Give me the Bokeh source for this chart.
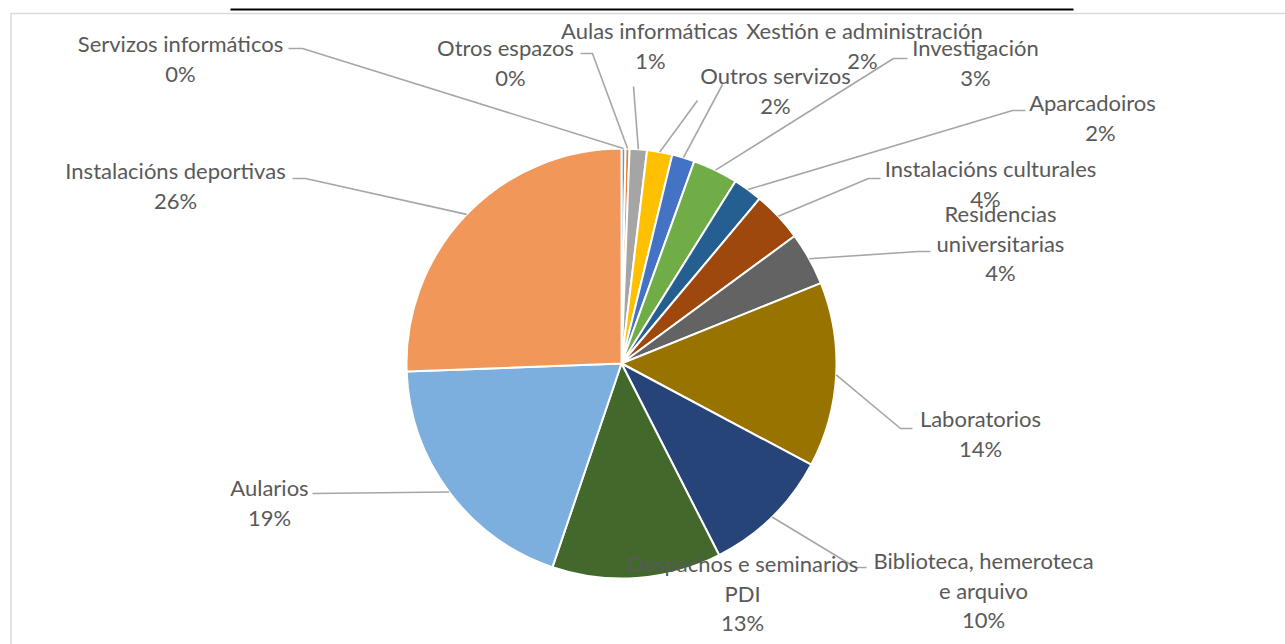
import math
from bokeh.plotting import figure
from bokeh.models import Range1d, ColumnDataSource
from bokeh.core.properties import value
from bokeh.embed import file_html
from bokeh.resources import INLINE

# ---------------- data ----------------
categories = [
    "Servizos informáticos", "Otros espazos", "Aulas informáticas",
    "Outros servizos", "Xestión e administración", "Investigación",
    "Aparcadoiros", "Instalacións culturales", "Residencias universitarias",
    "Laboratorios", "Biblioteca, hemeroteca e arquivo",
    "Despachos e seminarios PDI", "Aularios", "Instalacións deportivas",
]
shares = [0.3, 0.3, 1.3, 1.9, 1.7, 3.4, 2.2, 3.8, 4.0, 13.9, 9.7, 12.7, 19.2, 25.6]
colors = [
    "#5B9BD5", "#ED7D31", "#A5A5A5", "#FFC000", "#4472C4", "#70AD47",
    "#255E91", "#9E480E", "#636363", "#997300", "#264478", "#43682B",
    "#7CAFDD", "#F1975A",
]

# ---------------- layout (screen pixels) ----------------
W, H = 1285, 644
PAGE_H = 644
CX, CY, R = 621, 363, 215

label_lines = {
    "Residencias universitarias": ["Residencias", "universitarias"],
    "Biblioteca, hemeroteca e arquivo": ["Biblioteca, hemeroteca", "e arquivo"],
    "Despachos e seminarios PDI": ["Despachos e seminarios", "PDI"],
}
# label centre x and y of first line
label_pos = [
    (180, 43), (505, 47), (649, 30), (775, 75), (864, 30), (975, 47),
    (1092, 102), (990, 168), (1000, 213), (980, 418), (983, 560),
    (742, 563), (269, 487), (175, 170),
]
pct_dx = [0, 5, 1, 0, -2, 0, 8, -5, 0, 0, 0, 0, 0, 0]
LINE_GAP = 29.5
# leader line points after the rim point (None = no leader)
leaders = [
    [(302, 48), (288, 48)],
    [(592, 53), (580, 53)],
    [(633, 86)],
    [(697, 100)],
    [(722, 84)],
    [(893, 58), (907, 58)],
    [(1012, 110), (1025, 110)],
    [(868, 178), (880, 178)],
    [(918, 251), (930, 251)],
    [(900, 428), (912, 428)],
    [(855, 567), (866, 567)],
    None,
    [(312, 493)],
    [(305, 178), (292, 178)],
]

def dy(y):
    return PAGE_H - y

p = figure(width=W, height=H, output_backend="svg", toolbar_location=None,
           x_range=Range1d(0, W), y_range=Range1d(PAGE_H - H, PAGE_H),
           min_border=0)
p.axis.visible = False
p.grid.visible = False
p.outline_line_color = None
p.background_fill_color = "white"
p.border_fill_color = "white"

# frame and top rule
p.line([10.5, 10.5, 1400], [dy(700), dy(13), dy(13)], line_color="#D9D9D9", line_width=1.5)
p.line([230, 1073], [dy(9), dy(9)], line_color="#000000", line_width=2)

total = sum(shares)
fr = [s / total for s in shares]
cum = [0.0]
for f in fr:
    cum.append(cum[-1] + f)

starts = [math.pi / 2 - 2 * math.pi * c for c in cum[:-1]]
ends = [math.pi / 2 - 2 * math.pi * c for c in cum[1:]]
src = ColumnDataSource(dict(x=[CX] * len(fr), y=[dy(CY)] * len(fr),
                            s=starts, e=ends, c=colors))
p.wedge(x="x", y="y", radius=R, radius_units="screen", start_angle="s",
        end_angle="e", direction="clock", fill_color="c",
        line_color="white", line_width=2, source=src)

# leader lines
xs, ys = [], []
for i, pts in enumerate(leaders):
    if pts is None:
        continue
    mid = (cum[i] + cum[i + 1]) / 2 * 2 * math.pi
    rx = CX + R * math.sin(mid)
    ry = CY - R * math.cos(mid)
    xs.append([rx] + [q[0] for q in pts])
    ys.append([dy(ry)] + [dy(q[1]) for q in pts])
p.multi_line(xs, ys, line_color="#A6A6A6", line_width=1.6)

# labels
tx, ty, tt = [], [], []
for i, name in enumerate(categories):
    lines = label_lines.get(name, [name])
    pct = f"{round(fr[i] * 100):.0f}%"
    x0, y0 = label_pos[i]
    for k, ln in enumerate(lines):
        tx.append(x0); ty.append(dy(y0 + k * LINE_GAP)); tt.append(ln)
    tx.append(x0 + pct_dx[i]); ty.append(dy(y0 + len(lines) * LINE_GAP)); tt.append(pct)
p.text(x=tx, y=ty, text=tt, text_font=value("Lato"), text_font_size="22px",
       text_color="#595959", text_align="center", text_baseline="middle")

open("out.html", "w").write(file_html(p, INLINE))
